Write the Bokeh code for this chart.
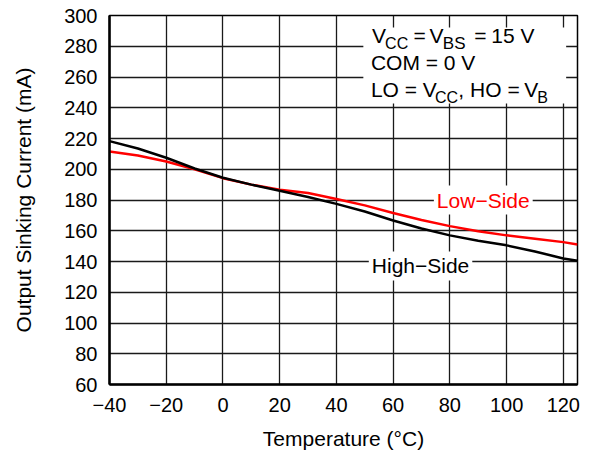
from bokeh.plotting import figure
from bokeh.models import Range1d, FixedTicker, Label, BoxAnnotation
from bokeh.embed import file_html
from bokeh.resources import INLINE

# ---- data ----
temperature = [-40, -30, -20, -10, 0, 10, 20, 30, 40, 50, 60, 70, 80, 90, 100, 110, 120, 125]
high_side = [218.3, 213.5, 207.5, 200.5, 194.5, 190.0, 186.0, 182.0, 177.5, 172.5,
             166.7, 161.5, 157.0, 153.5, 150.5, 146.5, 142.0, 140.5]
low_side = [211.5, 209.0, 205.0, 200.0, 194.2, 190.0, 186.7, 184.5, 180.7, 176.5,
            171.5, 167.0, 163.0, 159.7, 157.0, 154.8, 152.6, 151.0]

x_ticks = [-40, -20, 0, 20, 40, 60, 80, 100, 120]
x_tick_labels = ["\u221240", "\u221220", "0", "20", "40", "60", "80", "100", "120"]
y_ticks = [60, 80, 100, 120, 140, 160, 180, 200, 220, 240, 260, 280, 300]

x_title = "Temperature (\u00b0C)"
y_title = "Output Sinking Current (mA)"

FONT = "Liberation Sans"

p = figure(width=590, height=459, output_backend="svg", toolbar_location=None,
           x_range=Range1d(-40, 125), y_range=Range1d(60, 300),
           min_border_left=109, min_border_right=13, min_border_top=15, min_border_bottom=75)
p.background_fill_color = "white"
p.border_fill_color = "white"
p.outline_line_color = "black"
p.outline_line_width = 1.5

p.xaxis.ticker = FixedTicker(ticks=x_ticks)
p.yaxis.ticker = FixedTicker(ticks=y_ticks)
p.xaxis.major_label_overrides = {t: l for t, l in zip(x_ticks, x_tick_labels)}
for ax in (p.xaxis, p.yaxis):
    ax.major_tick_in = 0
    ax.major_tick_out = 0
    ax.minor_tick_in = 0
    ax.minor_tick_out = 0
    ax.axis_line_width = 2.5
    ax.axis_line_color = "black"
    ax.major_label_text_font = FONT
    ax.major_label_text_font_size = "20px"
    ax.major_label_text_color = "black"
    ax.axis_label_text_font = FONT
    ax.axis_label_text_font_size = "21px"
    ax.axis_label_text_font_style = "normal"
    ax.axis_label_text_color = "black"
p.xaxis.major_label_standoff = 13
p.yaxis.major_label_standoff = 12
p.xaxis.axis_label = x_title
p.yaxis.axis_label = y_title
p.xaxis.axis_label_standoff = 12
p.yaxis.axis_label_standoff = 26

p.xgrid.grid_line_color = "#1a1a1a"
p.ygrid.grid_line_color = "#1a1a1a"
p.xgrid.grid_line_width = 1.3
p.ygrid.grid_line_width = 1.3

p.line(temperature, low_side, line_color="#ff0000", line_width=2.5)
p.line(temperature, high_side, line_color="black", line_width=2.5)

# condition box
p.add_layout(BoxAnnotation(left=49.5, right=121.0, top=292.2, bottom=242.8,
                           fill_color="white", fill_alpha=1.0, line_alpha=0))

def lab(x, y, text, size="21px", color="black", **kw):
    p.add_layout(Label(x=x, y=y, text=text, text_font=FONT, text_font_size=size,
                       text_color=color, text_align="left", text_baseline="middle", **kw))

SUB = "16px"
# line 1: VCC = VBS = 15 V
lab(52.51, 286.86, "V")
lab(57.16, 281.53, "CC", size=SUB)
lab(67.14, 286.86, "=")
lab(72.78, 286.86, "V")
lab(77.53, 281.53, "BS", size="17px")
lab(88.56, 286.86, "=")
lab(94.63, 286.86, "15 V")
# line 2
lab(52.16, 269.30, "COM = 0 V")
# line 3: LO = VCC, HO = VB
lab(52.16, 251.87, "LO =")
lab(70.41, 251.87, "V")
lab(74.78, 246.60, "CC", size=SUB)
lab(83.00, 251.87, ", HO =")
lab(106.26, 251.87, "V")
lab(110.84, 246.60, "B", size=SUB)

# curve labels
lab(74.36, 180.0, "Low\u2212Side", color="#ff0000",
    background_fill_color="white", padding=3)
lab(51.42, 137.1, "High\u2212Side", color="black",
    background_fill_color="white", padding=3)

open("out.html", "w").write(file_html(p, INLINE))
